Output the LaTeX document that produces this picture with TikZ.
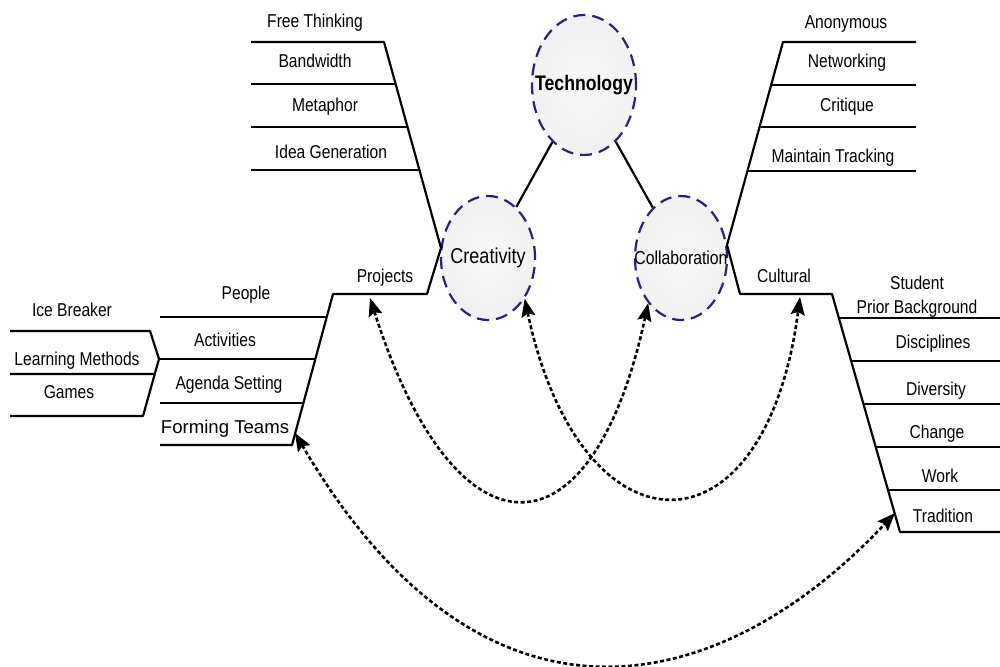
\documentclass[tikz,border=0pt]{standalone}
\usepackage{fontspec}
\setmainfont{Liberation Sans}[FakeStretch=0.84]
\newfontfamily\wideface{Liberation Sans}
\usetikzlibrary{shapes.geometric,arrows.meta}
\definecolor{rim}{RGB}{38,38,112}
\pgfdeclareradialshading{hubshade}{\pgfpoint{0bp}{0bp}}{color(0bp)=(gray!5); color(30bp)=(gray!12); color(50bp)=(gray!27)}
\tikzset{
  bone/.style={line width=2.2pt},
  lbl/.style={inner sep=0pt, anchor=base, font=\fontsize{18.6}{21}\selectfont},
  hub/.style={ellipse, inner sep=0pt, draw=rim, line width=2.2pt, dash pattern=on 12pt off 7pt, shading=hubshade},
  link/.style={line width=2.6pt, dash pattern=on 4pt off 2.5pt, {Stealth[length=18pt,width=14pt,inset=3pt]}-{Stealth[length=18pt,width=14pt,inset=3pt]}}
}
\begin{document}
\begin{tikzpicture}[x=1pt, y=-1pt, line join=round]
\useasboundingbox (0,0) rectangle (1000,666);
% the three circles
\node[hub, minimum width=104pt, minimum height=140pt] (T) at (584,85) {\makebox[0pt]{\fontsize{21}{24}\selectfont\bfseries Technology}};
\node[hub, minimum width=94pt, minimum height=124pt] (Cr) at (488,258) {\makebox[0pt]{\fontsize{21.5}{24}\selectfont Creativity}};
\node[hub, minimum width=92pt, minimum height=124pt] (Co) at (681,258) {\makebox[0pt]{\fontsize{18.8}{22}\selectfont Collaboration}};
\draw[bone] (T)--(Cr) (T)--(Co);
% bones, left
\draw[bone] (251,42)--(384,42)--(441,248)--(427,294)--(333,294)--(292,445)--(160,445);
\foreach \y/\x in {84/395.6,127/407.5,170/419.4}{\draw[bone] (251,\y)--(\x,\y);}
\foreach \y/\x in {317/326.8,359/315.3,403/303.4}{\draw[bone] (160,\y)--(\x,\y);}
\draw[bone] (10,331)--(150,331)--(159,359)--(143,416)--(10,416) (10,374)--(154.8,374);
% bones, right
\draw[bone] (916,42)--(783,42)--(727,245)--(740,294)--(832,294)--(900,532)--(1000,532);
\foreach \y/\x in {85/771.1,127/759.6,171/747.4}{\draw[bone] (916,\y)--(\x,\y);}
\foreach \y/\x in {318/838.9,361/851.1,404/863.4,447/875.7,490/888}{\draw[bone] (1000,\y)--(\x,\y);}
% labels
\foreach \t/\x/\y [count=\i] in {Free Thinking/315/28, Bandwidth/315/68, Metaphor/325/112, Idea Generation/331/158, Projects/385/282, Anonymous/846/29, Networking/847/68, Critique/847/111, Maintain Tracking/833/162, Cultural/784/282, Student/917/289, Prior Background/917/313, Disciplines/933/348, Diversity/936/395, Change/937/438, Work/940/482, Tradition/943/522, People/246/299, Activities/225/346, Agenda Setting/229/389, Ice Breaker/72/316, Learning Methods/77/365, Games/69/398}
  {\node[lbl] (L\i) at (\x,\y) {\t};}
\node[lbl, font=\wideface\fontsize{18.6}{21}\selectfont] (FT) at (225,433) {Forming Teams};
% links
\path (370,298) coordinate (pj) (800,297) coordinate (cu) (295,433) coordinate (ft) (895,513) coordinate (tr);
\draw[link] (pj) .. controls (455,565) and (592,565) .. (Co.-126);
\draw[link] (Cr.-48) .. controls (580,560) and (765,565) .. (cu);
\draw[link] (ft) .. controls (483,755) and (720,700) .. (tr);
\end{tikzpicture}
\end{document}
